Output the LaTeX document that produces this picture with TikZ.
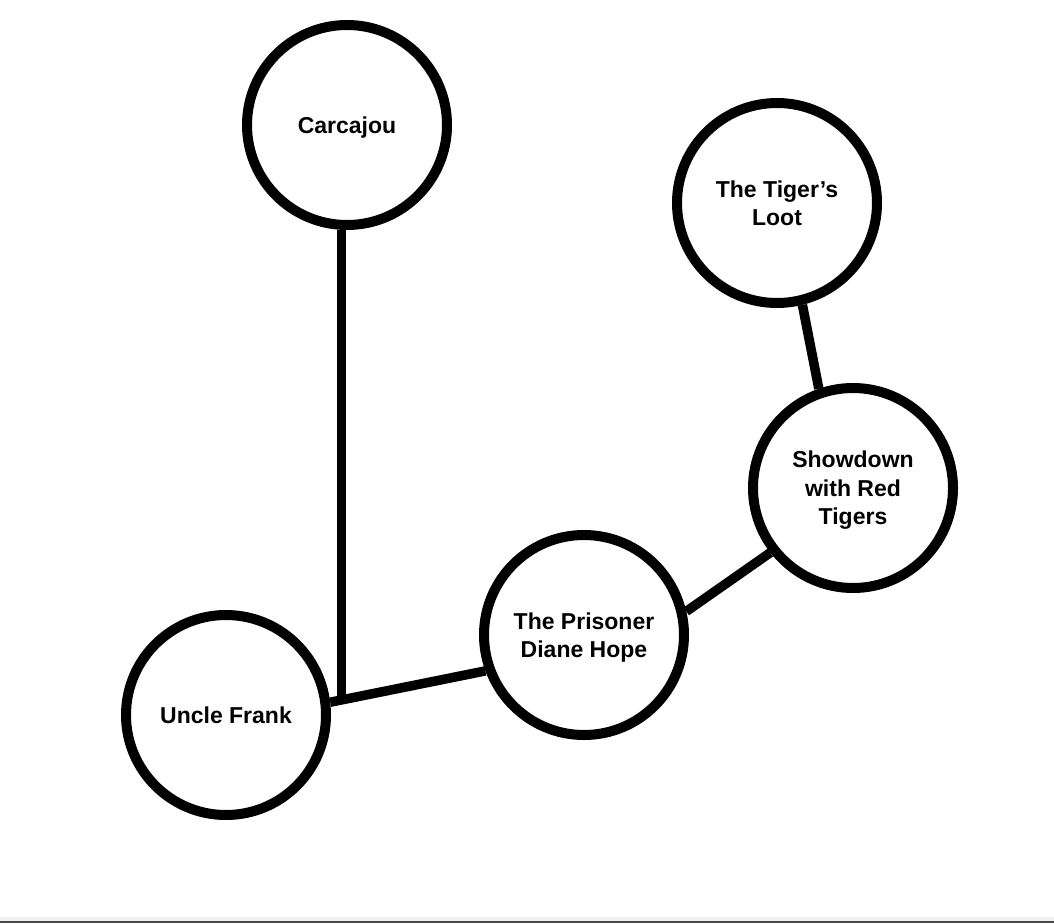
\documentclass[tikz,border=0pt]{standalone}
\usepackage{fontspec}
\setmainfont{Liberation Sans}
\begin{document}
\begin{tikzpicture}[x=1pt,y=-1pt,
  topic/.style={circle, draw=black, line width=10pt, minimum size=200pt, inner sep=0pt,
    align=center, fill=white, font=\bfseries\fontsize{23}{28.5}\selectfont,
    text height=16.5pt, text depth=0pt},
  twolines/.style={text height=45pt},
  threelines/.style={text height=73.5pt},
  link/.style={draw=black, line width=9.5pt}]
\fill[white] (0,0) rectangle (1054,923);
\useasboundingbox (0,0) rectangle (1054,923);
\fill[black!6] (0,917) rectangle (1054,921);
\fill[black!72] (0,921) rectangle (1054,923);

\node[topic] (car) at (347,125) {Carcajou};
\node[topic, twolines] (loot) at (777,203) {The Tiger’s\\Loot};
\node[topic, threelines] (show) at (853,488) {Showdown\\with Red\\Tigers};
\node[topic, twolines] (pris) at (584,635) {The Prisoner\\Diane Hope};
\node[topic] (uf) at (226,715) {Uncle Frank};

\draw[link] (uf.7) -- (pris.200);
\path (uf.7) -- (pris.200) coordinate[pos=0.07] (j);
\draw[link] (car.-93) -- (car.-93 |- j);
\draw[link] (pris.13.6) -- (show.218);
\draw[link] (loot.-76) -- (show.109);
\end{tikzpicture}
\end{document}
